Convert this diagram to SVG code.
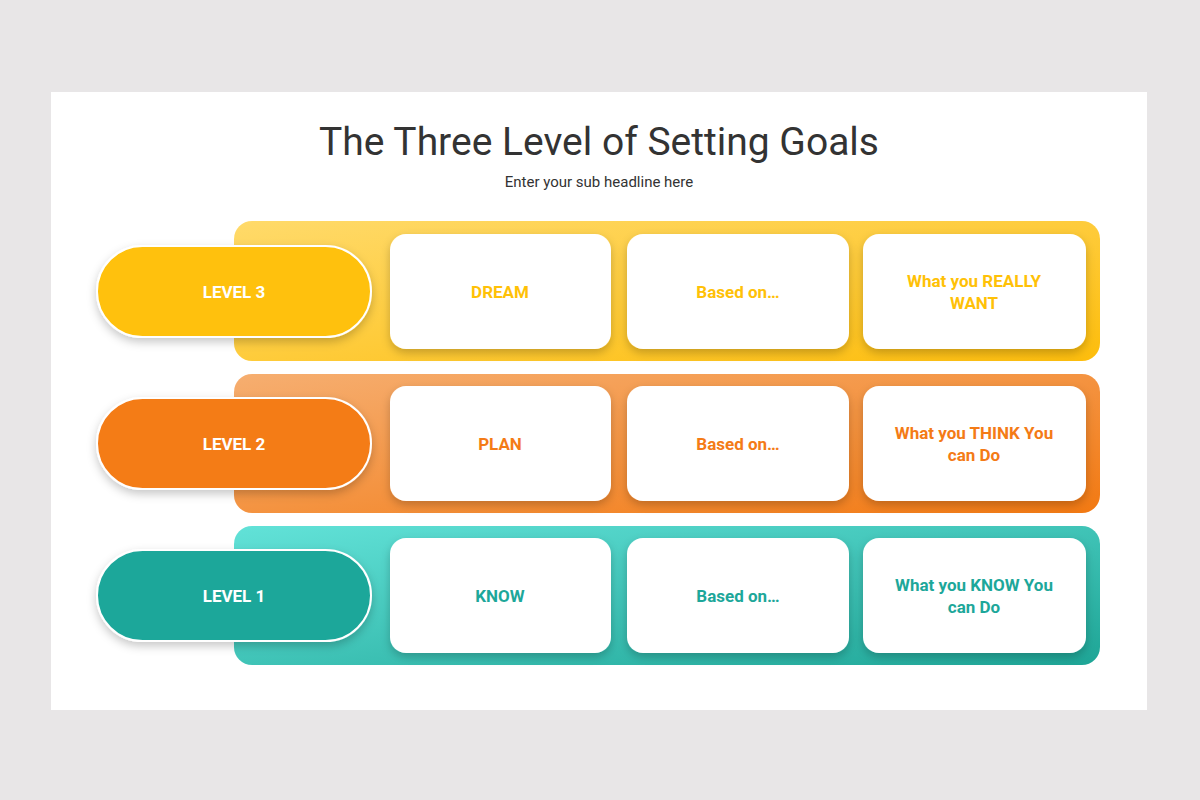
<svg xmlns="http://www.w3.org/2000/svg" width="1200" height="800" viewBox="0 0 1200 800">
<defs>
<linearGradient id="gy" x1="0" y1="0" x2="1" y2="1"><stop offset="0" stop-color="#FFDA6A"/><stop offset="1" stop-color="#FDBD0C"/></linearGradient>
<linearGradient id="go" x1="0" y1="0" x2="1" y2="1"><stop offset="0" stop-color="#F6AE70"/><stop offset="1" stop-color="#F27912"/></linearGradient>
<linearGradient id="gt" x1="0" y1="0" x2="1" y2="1"><stop offset="0" stop-color="#62E2D8"/><stop offset="1" stop-color="#1EA596"/></linearGradient>
<filter id="sh" x="-20%" y="-20%" width="140%" height="150%"><feDropShadow dx="0" dy="4" stdDeviation="5" flood-color="#000" flood-opacity="0.22"/></filter>
</defs>
<style>
.box{fill:#fff;filter:url(#sh)}
.pill{stroke:#fff;stroke-width:2;filter:url(#sh)}
.lt{font-family:Roboto,"Liberation Sans",sans-serif;font-weight:bold;font-size:17px;fill:#fff;text-anchor:middle}
.bt{font-family:Roboto,"Liberation Sans",sans-serif;font-weight:bold;font-size:17px;text-anchor:middle}
</style>
<rect width="1200" height="800" fill="#E8E6E7"/>
<rect x="51" y="92" width="1096" height="618" fill="#fff"/>
<text x="599" y="155" font-family="Roboto,'Liberation Sans',sans-serif" font-size="39" fill="#333" text-anchor="middle">The Three Level of Setting Goals</text>
<text x="599" y="187" font-family="Roboto,'Liberation Sans',sans-serif" font-size="15" fill="#333" text-anchor="middle">Enter your sub headline here</text>
<g id="connectors"/>
<g id="level3">
<rect x="234" y="221" width="866" height="140" rx="18" fill="url(#gy)"/>
<rect class="pill" x="97" y="246" width="274" height="91" rx="45.5" fill="#FFC107"/>
<text class="lt" x="234" y="298">LEVEL 3</text>
<rect class="box" x="390" y="234" width="221" height="115" rx="16"/>
<rect class="box" x="627" y="234" width="222" height="115" rx="16"/>
<rect class="box" x="863" y="234" width="223" height="115" rx="16"/>
<g fill="#FFC107"><text class="bt" x="500" y="298">DREAM</text><text class="bt" x="738" y="298">Based on…</text><text class="bt" x="974" y="287">What you REALLY</text><text class="bt" x="974" y="309">WANT</text></g>
</g>
<g id="level2">
<rect x="234" y="374" width="866" height="139" rx="18" fill="url(#go)"/>
<rect class="pill" x="97" y="398" width="274" height="91" rx="45.5" fill="#F47B16"/>
<text class="lt" x="234" y="450">LEVEL 2</text>
<rect class="box" x="390" y="386" width="221" height="115" rx="16"/>
<rect class="box" x="627" y="386" width="222" height="115" rx="16"/>
<rect class="box" x="863" y="386" width="223" height="115" rx="16"/>
<g fill="#F47B16"><text class="bt" x="500" y="450">PLAN</text><text class="bt" x="738" y="450">Based on…</text><text class="bt" x="974" y="439">What you THINK You</text><text class="bt" x="974" y="461">can Do</text></g>
</g>
<g id="level1">
<rect x="234" y="526" width="866" height="139" rx="18" fill="url(#gt)"/>
<rect class="pill" x="97" y="550" width="274" height="91" rx="45.5" fill="#1DA79A"/>
<text class="lt" x="234" y="602">LEVEL 1</text>
<rect class="box" x="390" y="538" width="221" height="115" rx="16"/>
<rect class="box" x="627" y="538" width="222" height="115" rx="16"/>
<rect class="box" x="863" y="538" width="223" height="115" rx="16"/>
<g fill="#1DA79A"><text class="bt" x="500" y="602">KNOW</text><text class="bt" x="738" y="602">Based on…</text><text class="bt" x="974" y="591">What you KNOW You</text><text class="bt" x="974" y="613">can Do</text></g>
</g>
</svg>
